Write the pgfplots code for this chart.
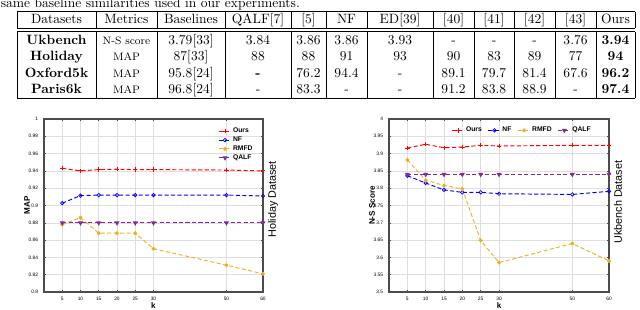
\documentclass[border=0pt]{standalone}
\usepackage{fontspec}
\usepackage{pgfplots}
\pgfplotsset{compat=1.18}
\newfontfamily\chartfont{Liberation Sans}
\definecolor{cOurs}{rgb}{1,0,0}
\definecolor{cNF}{rgb}{0,0,1}
\definecolor{cRMFD}{rgb}{0.929,0.694,0.125}
\definecolor{cQALF}{rgb}{0.494,0.184,0.557}
\tikzset{ylab/.style={font=\chartfont\bfseries\fontsize{6}{7}\selectfont, rotate=90, anchor=center}}
\pgfplotsset{
  mlab/.style={
    scale only axis, anchor=south west, clip=false,
    height=128.02pt,
    xmin=0, xmax=60, xtick={5,10,15,20,25,30,50,60},
    grid=major, major grid style={draw=black!13, line width=0.4pt},
    axis line style={draw=black!70, line width=0.9pt},
    every tick/.style={draw=black!70, line width=0.4pt},
    tick align=inside, major tick length=1.8pt,
    ticklabel style={font=\chartfont\fontsize{3.6}{4}\selectfont},
    /pgf/number format/assume math mode=true,
    yticklabel style={xshift=-0.8pt},
    xticklabel style={yshift=-0.6pt},
    label style={font=\chartfont\bfseries\fontsize{6}{7}\selectfont},
    xlabel style={at={(axis description cs:0.5,-0.081)}, anchor=center},
    legend cell align=left,
    legend style={draw=none, fill=none, inner sep=0pt, outer sep=0pt,
       font=\chartfont\bfseries\fontsize{5}{6}\selectfont,
       nodes={inner sep=0.8pt}},
    legend image code/.code={\draw[mark repeat=2,mark phase=2,##1] plot coordinates {(0pt,0pt) (4.8pt,0pt) (9.6pt,0pt)};},
  },
  sOurs/.style={color=cOurs, dash pattern=on 3pt off 1.8pt, line width=0.7pt, mark=+, mark size=1.6pt, mark options={solid, line width=0.6pt}},
  sNF/.style={color=cNF, dash pattern=on 3pt off 1.8pt, line width=0.7pt, mark=o, mark size=1.3pt, mark options={solid, line width=0.5pt}},
  sRMFD/.style={color=cRMFD, dash pattern=on 3pt off 1.8pt, line width=0.7pt, mark=*, mark size=1.1pt, mark options={solid}},
  sQALF/.style={color=cQALF, dash pattern=on 3pt off 1.8pt, line width=0.7pt, mark=triangle*, mark size=1.5pt, mark options={solid, rotate=180}},
}
\newcommand{\cell}[3]{\node[anchor=base, inner sep=0pt] at (#1,#2) {#3};}
\begin{document}
\begin{tikzpicture}
\useasboundingbox (0,0) rectangle (473.6pt,-229.4pt);
\begin{scope}[x=0.74pt,y=-0.74pt, line width=0.45pt]
  \node[anchor=base west, inner sep=0pt] at (0.5,7.5) {same baseline similarities used in our experiments.};
  \draw (17,11.7) -- (635,11.7);
  \draw (17,28.3) -- (635,28.3);
  \draw (17,31.7) -- (635,31.7);
  \draw (17,98.3) -- (635,98.3);
  \foreach \x in {17,96,157,225,291,326,367,433,474,514,555,596,635} {
    \draw (\x,11.7) -- (\x,28.3);
    \draw (\x,31.7) -- (\x,98.3);
  }
  % header
  \cell{56.5}{23.6}{Datasets}
  \cell{126.5}{23.6}{Metrics}
  \cell{191}{23.6}{Baselines}
  \cell{258}{23.6}{QALF[7]}
  \cell{308.5}{23.6}{[5]}
  \cell{346.5}{23.6}{NF}
  \cell{400}{23.6}{ED[39]}
  \cell{453.5}{23.6}{[40]}
  \cell{494}{23.6}{[41]}
  \cell{534.5}{23.6}{[42]}
  \cell{575.5}{23.6}{[43]}
  \cell{615.5}{23.6}{Ours}
  % Ukbench
  \cell{56.5}{44.8}{\textbf{Ukbench}}
  \cell{126.5}{44.8}{\footnotesize N-S score}
  \cell{191}{44.8}{3.79[33]}
  \cell{258}{44.8}{3.84}
  \cell{308.5}{44.8}{3.86}
  \cell{346.5}{44.8}{3.86}
  \cell{400}{44.8}{3.93}
  \cell{453.5}{44.8}{-}
  \cell{494}{44.8}{-}
  \cell{534.5}{44.8}{-}
  \cell{575.5}{44.8}{3.76}
  \cell{615.5}{44.8}{\textbf{3.94}}
  % Holiday
  \cell{56.5}{61.0}{\textbf{Holiday}}
  \cell{126.5}{61.0}{\footnotesize MAP}
  \cell{191}{61.0}{87[33]}
  \cell{258}{61.0}{88}
  \cell{308.5}{61.0}{88}
  \cell{346.5}{61.0}{91}
  \cell{400}{61.0}{93}
  \cell{453.5}{61.0}{90}
  \cell{494}{61.0}{83}
  \cell{534.5}{61.0}{89}
  \cell{575.5}{61.0}{77}
  \cell{615.5}{61.0}{\textbf{94}}
  % Oxford5k
  \cell{56.5}{77.2}{\textbf{Oxford5k}}
  \cell{126.5}{77.2}{\footnotesize MAP}
  \cell{191}{77.2}{95.8[24]}
  \cell{258}{77.2}{\textbf{-}}
  \cell{308.5}{77.2}{76.2}
  \cell{346.5}{77.2}{94.4}
  \cell{400}{77.2}{-}
  \cell{453.5}{77.2}{89.1}
  \cell{494}{77.2}{79.7}
  \cell{534.5}{77.2}{81.4}
  \cell{575.5}{77.2}{67.6}
  \cell{615.5}{77.2}{\textbf{96.2}}
  % Paris6k
  \cell{56.5}{93.4}{\textbf{Paris6k}}
  \cell{126.5}{93.4}{\footnotesize MAP}
  \cell{191}{93.4}{96.8[24]}
  \cell{258}{93.4}{-}
  \cell{308.5}{93.4}{83.3}
  \cell{346.5}{93.4}{-}
  \cell{400}{93.4}{-}
  \cell{453.5}{93.4}{91.2}
  \cell{494}{93.4}{83.8}
  \cell{534.5}{93.4}{88.9}
  \cell{575.5}{93.4}{-}
  \cell{615.5}{93.4}{\textbf{97.4}}
\end{scope}

\begin{axis}[mlab, at={(32.56pt,-216.08pt)}, width=162.06pt,
  ymin=0.8, ymax=1, ytick={0.8,0.82,0.84,0.86,0.88,0.9,0.92,0.94,0.96,0.98,1},
  xlabel={k},
  legend style={at={(0.795,0.955)}, anchor=north west}]
\addplot[sOurs] coordinates {(5,0.943)(10,0.940)(15,0.9415)(20,0.942)(25,0.9415)(30,0.9415)(50,0.941)(60,0.940)};
\addplot[sNF] coordinates {(5,0.9027)(10,0.9115)(15,0.912)(20,0.912)(25,0.912)(30,0.912)(50,0.912)(60,0.911)};
\addplot[sRMFD] coordinates {(5,0.878)(10,0.886)(15,0.868)(20,0.868)(25,0.868)(30,0.850)(50,0.831)(60,0.821)};
\addplot[sQALF] coordinates {(5,0.88)(10,0.88)(15,0.88)(20,0.88)(25,0.88)(30,0.88)(50,0.88)(60,0.88)};
\legend{Ours,NF,RMFD,QALF}
\node[ylab] at (axis description cs:-0.0776,0.5) {MAP};
\node[font=\chartfont\fontsize{8}{9}\selectfont, rotate=90, anchor=center] at (axis description cs:1.0457,0.535) {Holiday Dataset};
\end{axis}

\begin{axis}[mlab, at={(287.86pt,-216.08pt)}, width=162.8pt,
  ymin=3.5, ymax=4, ytick={3.5,3.55,3.6,3.65,3.7,3.75,3.8,3.85,3.9,3.95,4},
  yticklabel style={/pgf/number format/fixed, /pgf/number format/precision=2},
  xlabel={k},
  legend columns=4,
  legend style={at={(0.282,0.96)}, anchor=north west, /tikz/every even column/.append style={column sep=3.4pt}}]
\addplot[sOurs] coordinates {(5,3.916)(10,3.927)(15,3.917)(20,3.919)(25,3.924)(30,3.922)(50,3.924)(60,3.924)};
\addplot[sNF] coordinates {(5,3.836)(10,3.815)(15,3.795)(20,3.788)(25,3.788)(30,3.784)(50,3.782)(60,3.791)};
\addplot[sRMFD] coordinates {(5,3.882)(10,3.823)(15,3.808)(20,3.798)(25,3.649)(30,3.585)(50,3.640)(60,3.590)};
\addplot[sQALF] coordinates {(5,3.84)(10,3.84)(15,3.84)(20,3.84)(25,3.84)(30,3.84)(50,3.84)(60,3.84)};
\legend{Ours,NF,RMFD,QALF}
\node[ylab] at (axis description cs:-0.0773,0.5) {N-S Score};
\node[font=\chartfont\fontsize{8}{9}\selectfont, rotate=90, anchor=center] at (axis description cs:1.041,0.52) {Ukbench Dataset};
\end{axis}
\end{tikzpicture}
\end{document}
